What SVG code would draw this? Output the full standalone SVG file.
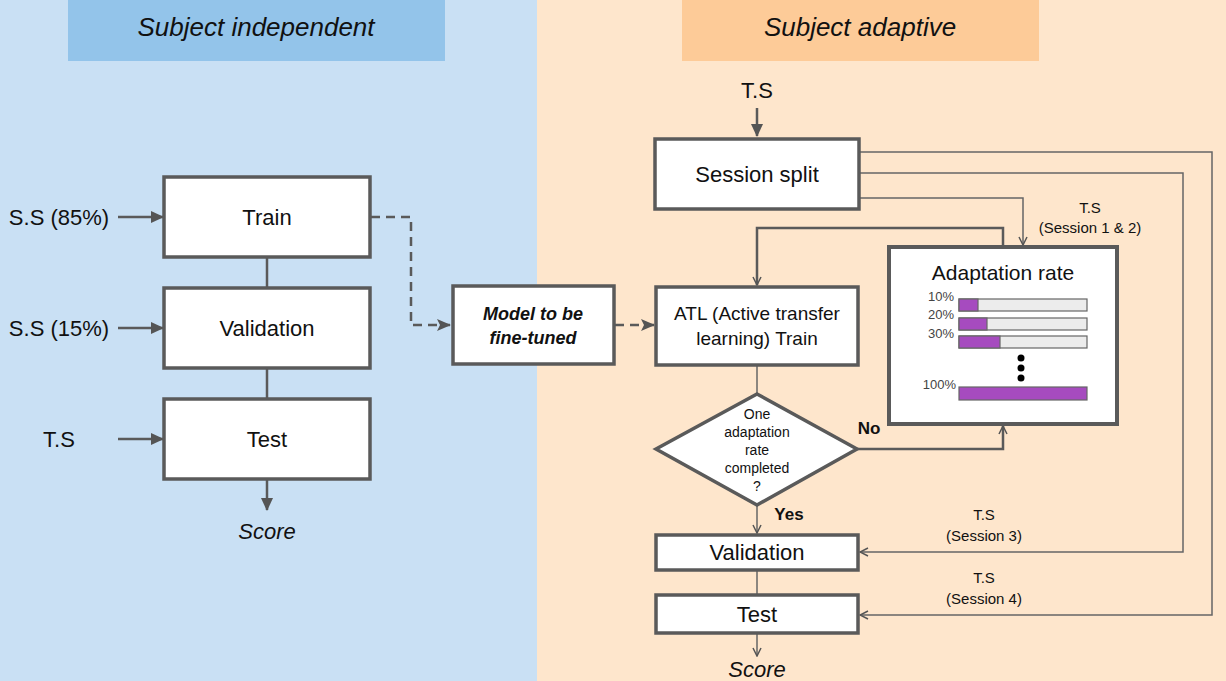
<svg xmlns="http://www.w3.org/2000/svg" width="1226" height="681" viewBox="0 0 1226 681">
<defs>
<marker id="tri" markerWidth="13" markerHeight="12" refX="12" refY="6" orient="auto" markerUnits="userSpaceOnUse" viewBox="0 0 13 12">
<path d="M0,0 L13,6 L0,12 Z" fill="#555"/>
</marker>
<marker id="tri2" markerWidth="14" markerHeight="14" refX="13" refY="7" orient="auto" markerUnits="userSpaceOnUse" viewBox="0 0 14 14">
<path d="M0,1 L14,7 L0,13 L3,7 Z" fill="#555"/>
</marker>
<marker id="vee" markerWidth="10" markerHeight="10" refX="9" refY="5" orient="auto" markerUnits="userSpaceOnUse" viewBox="0 0 10 10">
<path d="M1,1 L9,5 L1,9" fill="none" stroke="#555" stroke-width="1.5"/>
</marker>
</defs>
<style>
text{font-family:"Liberation Sans",Arial,sans-serif;fill:#111}
.box{fill:#fff;stroke:#5a5a5a;stroke-width:3.5}
.thin{fill:none;stroke:#666;stroke-width:1.5}
.mid{fill:none;stroke:#5a5a5a;stroke-width:2.5}
.dash{fill:none;stroke:#5a5a5a;stroke-width:2.5;stroke-dasharray:9 6}
.hdr{font-size:26px;font-style:italic;text-anchor:middle}
.lbl{font-size:22px;text-anchor:middle}
.sm{font-size:15px;text-anchor:middle}
.pc{font-size:13px;fill:#444;text-anchor:end}
.bar{fill:#ececec;stroke:#666;stroke-width:1.2}
.pur{fill:#a64bbf;stroke:#666;stroke-width:1.2}
</style>
<rect x="0" y="0" width="537" height="681" fill="#c9e0f4"/>
<rect x="537" y="0" width="689" height="681" fill="#fee6cc"/>
<g id="header-left"><rect x="68" y="0" width="377" height="61" fill="#93c4ea"/><text class="hdr" x="256" y="36">Subject independent</text></g>
<g id="header-right"><rect x="682" y="0" width="357" height="61" fill="#fdcb98"/><text class="hdr" x="860" y="36">Subject adaptive</text></g>

<g id="connectors">
<line class="mid" x1="267" y1="257" x2="267" y2="288"/>
<line class="mid" x1="267" y1="368" x2="267" y2="398"/>
<line class="mid" x1="118" y1="217" x2="163" y2="217" marker-end="url(#tri)"/>
<line class="mid" x1="118" y1="328" x2="163" y2="328" marker-end="url(#tri)"/>
<line class="mid" x1="118" y1="439" x2="163" y2="439" marker-end="url(#tri)"/>
<line class="mid" x1="267" y1="479" x2="267" y2="510" marker-end="url(#tri)"/>
<path class="dash" d="M371,217 H411 V325 H450" marker-end="url(#tri2)"/>
<path class="dash" d="M615,325 H654" marker-end="url(#tri2)"/>
<line class="mid" x1="757" y1="108" x2="757" y2="136" marker-end="url(#tri)"/>
<path class="thin" d="M860,152 H1212 V615 H860" marker-end="url(#vee)"/>
<path class="thin" d="M860,173 H1183 V552 H860" marker-end="url(#vee)"/>
<path class="thin" d="M860,198 H1023 V245" marker-end="url(#vee)"/>
<path class="mid" d="M1003,247 V228 H757 V285" marker-end="url(#vee)"/>
<line class="thin" x1="757" y1="366" x2="757" y2="394"/>
<path class="mid" d="M857,449 H1003 V426" marker-end="url(#vee)"/>
<line class="thin" x1="757" y1="505" x2="757" y2="533" marker-end="url(#vee)"/>
<line class="thin" x1="757" y1="571" x2="757" y2="595"/>
<line class="thin" x1="757" y1="634" x2="757" y2="656" marker-end="url(#vee)"/>
</g>

<g id="lbl-ss85"><text class="lbl" x="59" y="225">S.S (85%)</text></g>
<g id="lbl-ss15"><text class="lbl" x="59" y="336">S.S (15%)</text></g>
<g id="lbl-ts-left"><text class="lbl" x="59" y="447">T.S</text></g>
<g id="train"><rect class="box" x="164" y="177" width="206" height="80"/><text class="lbl" x="267" y="225">Train</text></g>
<g id="validation-left"><rect class="box" x="164" y="288" width="206" height="80"/><text class="lbl" x="267" y="336">Validation</text></g>
<g id="test-left"><rect class="box" x="164" y="399" width="206" height="80"/><text class="lbl" x="267" y="447">Test</text></g>
<g id="score-left"><text class="lbl" x="267" y="539" font-style="italic">Score</text></g>

<g id="model"><rect class="box" x="453" y="286" width="161" height="78"/>
<text x="533" y="320" font-size="18" font-weight="bold" font-style="italic" text-anchor="middle">Model to be</text>
<text x="533" y="344" font-size="18" font-weight="bold" font-style="italic" text-anchor="middle">fine-tuned</text></g>

<g id="ts-top"><text class="lbl" x="757" y="98">T.S</text></g>
<g id="session-split"><rect class="box" x="655" y="139" width="204" height="70"/><text class="lbl" x="757" y="182">Session split</text></g>
<g id="lbl-s12"><text class="sm" x="1090" y="213">T.S</text><text class="sm" x="1090" y="233">(Session 1 &amp; 2)</text></g>
<g id="atl"><rect class="box" x="656" y="287" width="202" height="78"/>
<text x="757" y="320" font-size="19" text-anchor="middle">ATL (Active transfer</text>
<text x="757" y="345" font-size="19" text-anchor="middle">learning) Train</text></g>

<g id="adaptation-rate"><rect x="889" y="247" width="228" height="177" fill="#fff" stroke="#5a5a5a" stroke-width="4"/>
<text x="1003" y="280" font-size="21" text-anchor="middle">Adaptation rate</text>
<text class="pc" x="954" y="301">10%</text>
<text class="pc" x="954" y="319">20%</text>
<text class="pc" x="954" y="338">30%</text>
<text class="pc" x="956" y="389">100%</text>
<rect class="bar" x="959" y="299" width="128" height="12"/><rect class="pur" x="959" y="299" width="19" height="12"/>
<rect class="bar" x="959" y="318" width="128" height="12"/><rect class="pur" x="959" y="318" width="28" height="12"/>
<rect class="bar" x="959" y="336" width="128" height="12"/><rect class="pur" x="959" y="336" width="41" height="12"/>
<rect class="pur" x="959" y="387" width="128" height="13"/>
<circle cx="1021" cy="358" r="3.5" fill="#000"/><circle cx="1021" cy="368" r="3.5" fill="#000"/><circle cx="1021" cy="378" r="3.5" fill="#000"/>
</g>

<g id="decision"><polygon points="757,394 857,449 757,505 656,449" fill="#fff" stroke="#5a5a5a" stroke-width="3.5"/>
<text x="757" y="419" font-size="14" text-anchor="middle">One</text>
<text x="757" y="437" font-size="14" text-anchor="middle">adaptation</text>
<text x="757" y="455" font-size="14" text-anchor="middle">rate</text>
<text x="757" y="473" font-size="14" text-anchor="middle">completed</text>
<text x="757" y="491" font-size="14" text-anchor="middle">?</text></g>
<g id="lbl-no"><text x="869" y="434" font-size="17" font-weight="bold" text-anchor="middle">No</text></g>
<g id="lbl-yes"><text x="789" y="520" font-size="17" font-weight="bold" text-anchor="middle">Yes</text></g>

<g id="validation-right"><rect class="box" x="656" y="535" width="202" height="35"/><text class="lbl" x="757" y="560">Validation</text></g>
<g id="lbl-s3"><text class="sm" x="984" y="520">T.S</text><text class="sm" x="984" y="541">(Session 3)</text></g>
<g id="test-right"><rect class="box" x="656" y="595" width="202" height="38"/><text class="lbl" x="757" y="622">Test</text></g>
<g id="lbl-s4"><text class="sm" x="984" y="583">T.S</text><text class="sm" x="984" y="604">(Session 4)</text></g>
<g id="score-right"><text class="lbl" x="757" y="677" font-style="italic">Score</text></g>
</svg>
